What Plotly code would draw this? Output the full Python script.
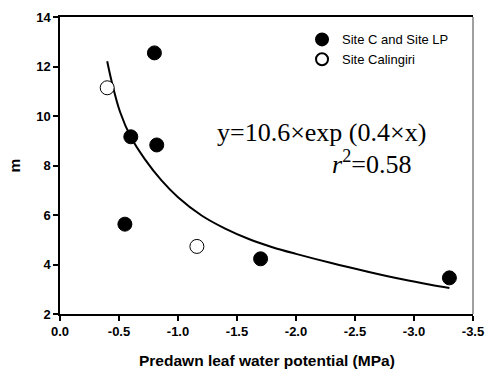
import plotly.graph_objects as go

# Data
site_c_lp_x = [-0.55, -0.60, -0.80, -0.82, -1.70, -3.30]
site_c_lp_y = [5.63, 9.16, 12.55, 8.83, 4.23, 3.46]
calingiri_x = [-0.40, -1.16]
calingiri_y = [11.14, 4.73]
fit_x = [-0.40, -0.44, -0.51, -0.60, -0.72, -0.86, -1.00, -1.20, -1.40, -1.60, -1.80, -2.00, -2.30, -2.60, -2.90, -3.14, -3.30]
fit_y = [12.21, 11.35, 10.15, 9.15, 8.25, 7.40, 6.72, 5.98, 5.45, 5.03, 4.70, 4.43, 4.06, 3.72, 3.40, 3.18, 3.05]
x_ticks = [0.0, -0.5, -1.0, -1.5, -2.0, -2.5, -3.0, -3.5]
x_ticktext = ["0.0", "-0.5", "-1.0", "-1.5", "-2.0", "-2.5", "-3.0", "-3.5"]
y_ticks = [2, 4, 6, 8, 10, 12, 14]

SANS = "Liberation Sans, Arial, sans-serif"
SERIF = "Liberation Serif, Times New Roman, serif"

fig = go.Figure()
fig.add_trace(go.Scatter(x=fit_x, y=fit_y, mode="lines", line=dict(color="black", width=2, shape="spline"),
                         showlegend=False, hoverinfo="skip"))
fig.add_trace(go.Scatter(x=site_c_lp_x, y=site_c_lp_y, mode="markers", name="Site C and Site LP",
                         marker=dict(size=14, color="black", line=dict(color="black", width=1))))
fig.add_trace(go.Scatter(x=calingiri_x, y=calingiri_y, mode="markers", name="Site Calingiri",
                         marker=dict(size=14, color="white", line=dict(color="black", width=1))))

tickfont = dict(family=SANS, size=13, color="black", weight="bold")
fig.update_layout(
    template="none",
    width=487, height=370,
    margin=dict(l=60, r=14, t=17, b=56, pad=0),
    paper_bgcolor="white", plot_bgcolor="white",
    font=dict(family=SANS, color="black"),
    xaxis=dict(range=[0, -3.5], tickvals=x_ticks, ticktext=x_ticktext, automargin=False,
               showgrid=False, zeroline=False, showline=True, linecolor="black", linewidth=1.5,
               mirror=True, ticks="outside", ticklen=5, tickwidth=1.5, tickcolor="black", tickfont=tickfont),
    yaxis=dict(range=[2, 14], tickvals=y_ticks, automargin=False, showgrid=False, zeroline=False,
               showline=True, linecolor="black", linewidth=1.5, ticks="outside", ticklen=5,
               tickwidth=1.5, tickcolor="black", tickfont=tickfont),
    legend=dict(x=0.586, y=0.975, xanchor="left", yanchor="top", bgcolor="rgba(0,0,0,0)",
                font=dict(family=SANS, size=13, color="black"), itemsizing="constant",
                itemwidth=30, tracegroupgap=0),
    showlegend=True,
)
fig.add_shape(type="line", xref="paper", yref="paper", x0=1, x1=1, y0=0, y1=1,
              line=dict(color="#808080", width=1.5))
# axis titles
fig.add_annotation(text="Predawn leaf water potential (MPa)", xref="paper", yref="paper",
                   x=0.5, y=-0.155, xanchor="center", yanchor="middle", showarrow=False,
                   font=dict(family=SANS, size=15.5, color="black", weight="bold"))
fig.add_annotation(text="m", xref="paper", yref="paper", x=-0.109, y=0.5, textangle=-90,
                   xanchor="center", yanchor="middle", showarrow=False,
                   font=dict(family=SANS, size=15.5, color="black", weight="bold"))
# regression text
fig.add_annotation(text="y=10.6×exp (0.4×x)", xref="x", yref="y", x=-1.315, y=9.33,
                   xanchor="left", yanchor="middle", showarrow=False,
                   font=dict(family=SERIF, size=26, color="black"))
fig.add_annotation(text="<i>r</i><sup>2</sup>=0.58", xref="x", yref="y", x=-2.994, y=8.11,
                   xanchor="right", yanchor="middle", showarrow=False,
                   font=dict(family=SERIF, size=26, color="black"))
fig.write_html("out.html", config={"displayModeBar": False},
               post_script="document.body.style.margin='0';document.body.style.overflow='hidden';")
